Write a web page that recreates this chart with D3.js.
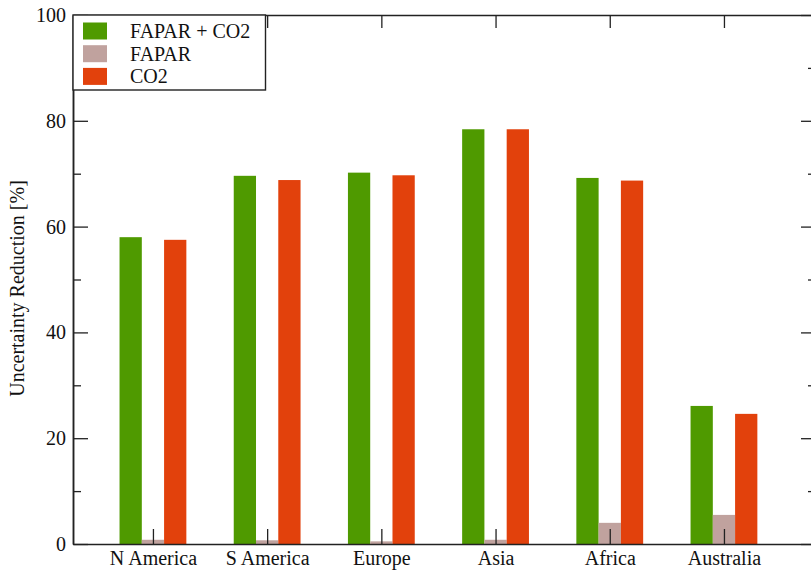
<!DOCTYPE html>
<html>
<head>
<meta charset="utf-8">
<script src="https://cdn.jsdelivr.net/npm/d3@7"></script>
<style>
  html, body { margin: 0; padding: 0; background: #fff; }
  svg text { font-family: "Liberation Serif", "Times New Roman", Times, "DejaVu Serif", serif !important; }
</style>
</head>
<body>
<svg id="chart" width="811" height="571"></svg>
<script>
const categories = ["N America", "S America", "Europe", "Asia", "Africa", "Australia"];
const seriesNames = ["FAPAR + CO2", "FAPAR", "CO2"];
const faparCo2 = [58.0, 69.6, 70.2, 78.4, 69.2, 26.1];
const fapar = [0.8, 0.7, 0.5, 0.8, 4.0, 5.5];
const co2 = [57.5, 68.8, 69.7, 78.4, 68.7, 24.6];
const seriesColors = ["#4f9a00", "#c0a29e", "#e2410c"];
const yMajorTicks = [0, 20, 40, 60, 80, 100];
const yMinorTicks = [10, 30, 50, 70, 90];
const yTitle = "Uncertainty Reduction [%]";

const series = [faparCo2, fapar, co2];

const svg = d3.select("#chart");
const L = 73, R = 816, T = 15, B = 544;

const x = d3.scaleLinear().domain([-0.7, 5.806]).range([L, R]);
const y = d3.scaleLinear().domain([0, 100]).range([B, T]);
const barW = 0.195;

series.forEach((vals, s) => {
  svg.append("g").selectAll("rect").data(vals).join("rect")
    .attr("x", (d, i) => x(i + (s - 1.5) * barW))
    .attr("width", x(barW) - x(0))
    .attr("y", d => y(d))
    .attr("height", d => y(0) - y(d))
    .attr("fill", seriesColors[s]);
});

const idx = categories.map((c, i) => i);
const axisStyle = g => {
  g.attr("font-family", null);
  g.select(".domain").attr("stroke", "#222").attr("stroke-width", 1.5);
  g.selectAll(".tick line").attr("stroke", "#222").attr("stroke-width", 1.3);
  g.selectAll("text").attr("fill", "#111").attr("font-size", 20);
};

svg.append("g").attr("transform", `translate(0,${B})`)
  .call(d3.axisBottom(x).tickValues(idx).tickFormat(i => categories[i])
    .tickSizeInner(-15).tickSizeOuter(0).tickPadding(7))
  .call(axisStyle);

svg.append("g").attr("transform", `translate(0,${T})`)
  .call(d3.axisTop(x).tickValues(idx).tickFormat("")
    .tickSizeInner(-13).tickSizeOuter(0))
  .call(axisStyle);

svg.append("g").attr("transform", `translate(${L},0)`)
  .call(d3.axisLeft(y).tickValues(yMajorTicks).tickFormat(d3.format("d"))
    .tickSizeInner(-15).tickSizeOuter(0).tickPadding(7))
  .call(axisStyle);
svg.append("g").attr("transform", `translate(${L},0)`)
  .call(d3.axisLeft(y).tickValues(yMinorTicks).tickFormat("")
    .tickSizeInner(-8).tickSizeOuter(0))
  .call(axisStyle);

svg.append("g").attr("transform", `translate(${R},0)`)
  .call(d3.axisRight(y).tickValues(yMajorTicks).tickFormat("")
    .tickSizeInner(-15).tickSizeOuter(0))
  .call(axisStyle);
svg.append("g").attr("transform", `translate(${R},0)`)
  .call(d3.axisRight(y).tickValues(yMinorTicks).tickFormat("")
    .tickSizeInner(-8).tickSizeOuter(0))
  .call(axisStyle);

svg.append("text")
  .attr("transform", `translate(24,${(T + B) / 2 + 9}) rotate(-90)`)
  .attr("text-anchor", "middle")
  .attr("font-size", 20)
  .attr("fill", "#111")
  .text(yTitle);

const lg = svg.append("g");
lg.append("rect").attr("x", L).attr("y", T).attr("width", 192.5).attr("height", 75)
  .attr("fill", "#fff").attr("stroke", "#222").attr("stroke-width", 1.4);
seriesNames.forEach((n, i) => {
  const cy = 31 + i * 22.7;
  lg.append("rect").attr("x", 83).attr("y", cy - 8.5).attr("width", 24).attr("height", 17)
    .attr("fill", seriesColors[i]);
  lg.append("text").attr("x", 130).attr("y", cy).attr("dy", "0.35em")
    .attr("font-size", 20).attr("fill", "#111").text(n);
});
</script>
</body>
</html>
